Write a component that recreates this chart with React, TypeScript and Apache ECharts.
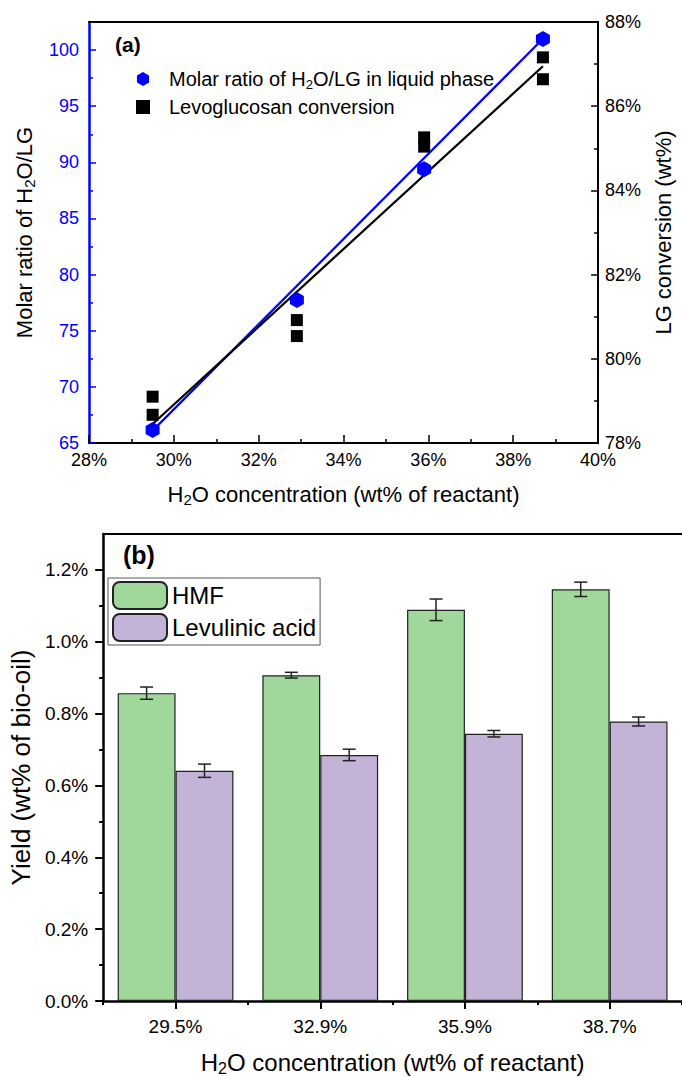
import React, { useEffect, useRef } from 'react';
import * as echarts from 'echarts';

const FONT = "'Liberation Sans', Arial, Helvetica, sans-serif";
const BLUE = '#0000ff';

// ---- Panel (a) data ----
const h2oConcentration = [29.5, 32.9, 35.9, 38.7];
const molarRatio = [66.16, 77.74, 89.38, 100.98];
const lgConversionX = [29.5, 29.5, 32.9, 32.9, 35.9, 35.9, 38.7, 38.7];
const lgConversion = [79.1, 78.67, 80.92, 80.54, 85.26, 85.04, 87.16, 86.64];
const fitX = [29.5, 38.7];
const molarFitY = [66.1, 101.0];
const conversionFitY = [78.45, 86.95];
const leftTicks = [65, 70, 75, 80, 85, 90, 95, 100];
const leftMinorTicks = [67.5, 72.5, 77.5, 82.5, 87.5, 92.5, 97.5];

// ---- Panel (b) data ----
const barCategories = ['29.5%', '32.9%', '35.9%', '38.7%'];
const hmfYield = [0.857, 0.907, 1.089, 1.146];
const hmfErr = [0.017, 0.008, 0.03, 0.02];
const laYield = [0.641, 0.685, 0.744, 0.778];
const laErr = [0.0185, 0.016, 0.009, 0.0125];
const yieldTicks = [0, 0.2, 0.4, 0.6, 0.8, 1.0, 1.2];
const yieldMinorTicks = [0.1, 0.3, 0.5, 0.7, 0.9, 1.1];

const MOLAR_NAME = 'Molar ratio of H2O/LG in liquid phase';
const CONV_NAME = 'Levoglucosan conversion';

const HEX = 'path://M0,-10 L8.66,-5 L8.66,5 L0,10 L-8.66,5 L-8.66,-5 Z';
const SQUARE = 'path://M0,0 L10,0 L10,10 L0,10 Z';

function subRich(base: number, sub: number, lh: number, color = '#000', pad = 0) {
  return {
    n: { fontSize: base, fontFamily: FONT, lineHeight: lh, color },
    p: { fontSize: base, fontFamily: FONT, lineHeight: lh, color, padding: [0, 0, 0, pad] },
    s: { fontSize: sub, fontFamily: FONT, lineHeight: Math.round(lh * 0.55), verticalAlign: 'bottom', color },
  };
}

function errorSeries(values: number[], errs: number[], sign: number) {
  return {
    type: 'custom',
    xAxisIndex: 2,
    yAxisIndex: 3,
    z: 5,
    silent: true,
    data: values.map((v, i) => [i, v, errs[i]]),
    renderItem: (params: any, api: any) => {
      const i = api.value(0);
      const v = api.value(1);
      const e = api.value(2);
      const band = api.size([1, 0])[0];
      const x = api.coord([i, v])[0] + sign * band * 0.2;
      const yHi = api.coord([i, v + e])[1];
      const yLo = api.coord([i, v - e])[1];
      const cap = 6.5;
      const style = { stroke: '#222', lineWidth: 1.5 };
      return {
        type: 'group',
        children: [
          { type: 'line', shape: { x1: x, y1: yHi, x2: x, y2: yLo }, style },
          { type: 'line', shape: { x1: x - cap, y1: yHi, x2: x + cap, y2: yHi }, style },
          { type: 'line', shape: { x1: x - cap, y1: yLo, x2: x + cap, y2: yLo }, style },
        ],
      };
    },
  };
}

export default function App() {
  const ref = useRef<HTMLDivElement>(null);

  useEffect(() => {
    if (!ref.current) return;
    const chart = echarts.init(ref.current, undefined, { renderer: 'svg' });

    const option: any = {
      animation: false,
      textStyle: { fontFamily: FONT },
      grid: [
        { left: 89, top: 22, width: 522, height: 421 },
        { left: 99, top: 534, width: 584, height: 468 },
      ],
      legend: [
        {
          data: [
            { name: MOLAR_NAME, icon: HEX },
            { name: CONV_NAME, icon: SQUARE },
          ],
          orient: 'vertical',
          left: 136,
          top: 69,
          padding: 0,
          itemWidth: 14,
          itemHeight: 14,
          itemGap: 6,
          formatter: (name: string) =>
            name === MOLAR_NAME
              ? '{p|Molar ratio of H}{s|2}{n|O/LG in liquid phase}'
              : '{p|' + name + '}',
          textStyle: { fontSize: 20, color: '#000', fontFamily: FONT, rich: subRich(20, 13, 24, '#000', 14) },
        },
        {
          data: ['HMF', 'Levulinic acid'],
          orient: 'vertical',
          left: 108,
          top: 578,
          padding: [3, 4, 3, 4],
          borderColor: '#555',
          borderWidth: 1,
          itemWidth: 54,
          itemHeight: 27,
          itemGap: 3,
          textStyle: { fontSize: 24, color: '#000', fontFamily: FONT },
        },
      ],
      graphic: [
        { type: 'text', left: 115, top: 34, style: { text: '(a)', font: `bold 21px ${FONT}`, fill: '#000' } },
        { type: 'text', left: 123, top: 542, style: { text: '(b)', font: `bold 25px ${FONT}`, fill: '#000' } },
      ],
      xAxis: [
        {
          gridIndex: 0,
          type: 'value',
          position: 'bottom',
          min: 28,
          max: 40,
          interval: 2,
          axisLine: { show: true, lineStyle: { color: '#000', width: 2 } },
          axisTick: { show: true, inside: true, length: 8, lineStyle: { color: '#000', width: 1.5 } },
          minorTick: { show: true, splitNumber: 2, length: 4, lineStyle: { color: '#000', width: 1.5 } },
          axisLabel: { formatter: '{value}%', fontSize: 18, color: '#000', margin: 8, fontFamily: FONT },
          splitLine: { show: false },
          minorSplitLine: { show: false },
          name: '{n|H}{s|2}{n|O concentration (wt% of reactant)}',
          nameLocation: 'middle',
          nameGap: 38,
          nameTextStyle: { fontSize: 22, color: '#000', fontFamily: FONT, rich: subRich(22, 15, 26) },
        },
        {
          gridIndex: 0,
          type: 'value',
          position: 'top',
          min: 0,
          max: 1,
          axisLine: { show: true, lineStyle: { color: '#000', width: 2 } },
          axisTick: { show: false },
          axisLabel: { show: false },
          splitLine: { show: false },
        },
        {
          gridIndex: 1,
          type: 'category',
          position: 'bottom',
          data: barCategories,
          axisLine: { show: true, lineStyle: { color: '#000', width: 2.5 } },
          axisTick: { show: true, alignWithLabel: true, length: 8, lineStyle: { color: '#000', width: 2 } },
          axisLabel: { fontSize: 19, color: '#000', margin: 16, fontFamily: FONT },
          splitLine: { show: false },
          name: '{n|H}{s|2}{n|O concentration (wt% of reactant)}',
          nameLocation: 'middle',
          nameGap: 47,
          nameTextStyle: { fontSize: 24, color: '#000', fontFamily: FONT, rich: subRich(24, 16, 28) },
        },
        {
          gridIndex: 1,
          type: 'category',
          position: 'bottom',
          data: barCategories,
          axisLine: { show: false },
          axisTick: { show: true, length: 4, lineStyle: { color: '#000', width: 2 } },
          axisLabel: { show: false },
          splitLine: { show: false },
        },
        {
          gridIndex: 1,
          type: 'value',
          position: 'top',
          min: 0,
          max: 1,
          axisLine: { show: true, lineStyle: { color: '#000', width: 2 } },
          axisTick: { show: false },
          axisLabel: { show: false },
          splitLine: { show: false },
        },
      ],
      yAxis: [
        {
          gridIndex: 0,
          type: 'value',
          position: 'left',
          min: 65,
          max: 102.5,
          axisLine: { show: true, lineStyle: { color: BLUE, width: 2.5 } },
          axisTick: { show: true, inside: true, length: 7, customValues: leftTicks, lineStyle: { color: BLUE, width: 1.5 } },
          axisLabel: { color: BLUE, fontSize: 18, margin: 10, fontFamily: FONT, customValues: leftTicks },
          splitLine: { show: false },
          name: '{n|Molar ratio of H}{s|2}{n|O/LG}',
          nameLocation: 'middle',
          nameRotate: 90,
          nameGap: 52,
          nameTextStyle: { fontSize: 22, color: '#000', fontFamily: FONT, rich: subRich(22, 15, 26) },
        },
        {
          gridIndex: 0,
          type: 'value',
          position: 'right',
          min: 78,
          max: 88,
          interval: 2,
          axisLine: { show: true, lineStyle: { color: '#000', width: 2 } },
          axisTick: { show: true, inside: true, length: 7, lineStyle: { color: '#000', width: 1.5 } },
          minorTick: { show: true, splitNumber: 2, length: 4, lineStyle: { color: '#000', width: 1.5 } },
          axisLabel: { formatter: '{value}%', fontSize: 18, color: '#000', margin: 7, fontFamily: FONT },
          splitLine: { show: false },
          minorSplitLine: { show: false },
          name: 'LG conversion (wt%)',
          nameLocation: 'middle',
          nameRotate: 90,
          nameGap: 30,
          nameTextStyle: { fontSize: 22, color: '#000', fontFamily: FONT },
        },
        {
          gridIndex: 0,
          type: 'value',
          position: 'left',
          min: 65,
          max: 102.5,
          axisLine: { show: false },
          axisTick: { show: true, inside: true, length: 4, customValues: leftMinorTicks, lineStyle: { color: BLUE, width: 1.5 } },
          axisLabel: { show: false },
          splitLine: { show: false },
        },
        {
          gridIndex: 1,
          type: 'value',
          position: 'left',
          min: 0,
          max: 1.3,
          axisLine: { show: true, lineStyle: { color: '#000', width: 2.5 } },
          axisTick: { show: true, length: 8, customValues: yieldTicks, lineStyle: { color: '#000', width: 2 } },
          axisLabel: {
            customValues: yieldTicks,
            formatter: (v: number) => v.toFixed(1) + '%',
            fontSize: 19,
            color: '#000',
            margin: 15,
            fontFamily: FONT,
          },
          splitLine: { show: false },
          name: 'Yield (wt% of bio-oil)',
          nameLocation: 'middle',
          nameRotate: 90,
          nameGap: 66,
          nameTextStyle: { fontSize: 26, color: '#000', fontFamily: FONT },
        },
        {
          gridIndex: 1,
          type: 'value',
          position: 'left',
          min: 0,
          max: 1.3,
          axisLine: { show: false },
          axisTick: { show: true, length: 4, customValues: yieldMinorTicks, lineStyle: { color: '#000', width: 2 } },
          axisLabel: { show: false },
          splitLine: { show: false },
        },
      ],
      series: [
        {
          type: 'line',
          xAxisIndex: 0,
          yAxisIndex: 0,
          data: fitX.map((x, i) => [x, molarFitY[i]]),
          symbol: 'none',
          silent: true,
          lineStyle: { color: BLUE, width: 2.2 },
          z: 2,
        },
        {
          type: 'line',
          xAxisIndex: 0,
          yAxisIndex: 1,
          data: fitX.map((x, i) => [x, conversionFitY[i]]),
          symbol: 'none',
          silent: true,
          lineStyle: { color: '#000', width: 2.2 },
          z: 2,
        },
        {
          name: CONV_NAME,
          type: 'scatter',
          xAxisIndex: 0,
          yAxisIndex: 1,
          data: lgConversionX.map((x, i) => [x, lgConversion[i]]),
          symbol: 'rect',
          symbolSize: 12,
          itemStyle: { color: '#000', opacity: 1 },
          z: 3,
        },
        {
          name: MOLAR_NAME,
          type: 'scatter',
          xAxisIndex: 0,
          yAxisIndex: 0,
          data: h2oConcentration.map((x, i) => [x, molarRatio[i]]),
          symbol: HEX,
          symbolSize: [14, 16],
          itemStyle: { color: BLUE, opacity: 1 },
          z: 4,
        },
        {
          name: 'HMF',
          type: 'bar',
          xAxisIndex: 2,
          yAxisIndex: 3,
          data: hmfYield,
          barGap: '0%',
          barCategoryGap: '20%',
          itemStyle: { color: '#a0d89c', borderColor: '#222', borderWidth: 1.2 },
        },
        {
          name: 'Levulinic acid',
          type: 'bar',
          xAxisIndex: 2,
          yAxisIndex: 3,
          data: laYield,
          barGap: '0%',
          barCategoryGap: '20%',
          itemStyle: { color: '#c3b3d7', borderColor: '#222', borderWidth: 1.2 },
        },
        errorSeries(hmfYield, hmfErr, -1),
        errorSeries(laYield, laErr, 1),
      ],
    };

    chart.setOption(option);
    return () => chart.dispose();
  }, []);

  return (
    <div
      ref={ref}
      style={{ position: 'fixed', left: 0, top: 0, width: 682, height: 1077, background: '#fff' }}
    />
  );
}
